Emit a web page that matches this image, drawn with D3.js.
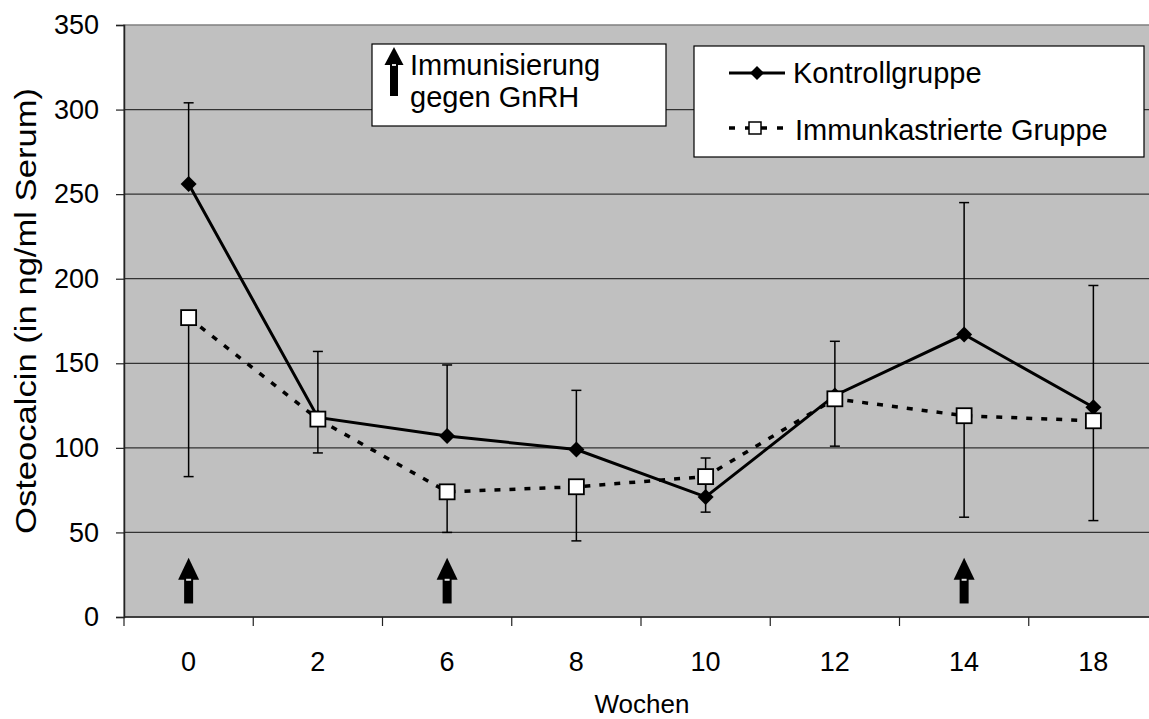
<!DOCTYPE html>
<html>
<head>
<meta charset="utf-8">
<script src="https://cdn.jsdelivr.net/npm/d3@7"></script>
<style>
  body { margin: 0; background: #fff; }
  svg text { font-family: "Liberation Sans", Arial, sans-serif; fill: #000; }
</style>
</head>
<body>
<div id="chart"></div>
<script>
// data
var weeks = ["0", "2", "6", "8", "10", "12", "14", "18"];
var kontroll = [256, 118, 107, 99, 71, 131, 167, 124];
var kontrollUpper = [304, 157, 149, 134, 94, 163, 245, 196];
var immun = [177, 117, 74, 77, 83, 129, 119, 116];
var immunLower = [83, 97, 50, 45, 62, 101, 59, 57];
var yTicks = [0, 50, 100, 150, 200, 250, 300, 350];
var arrowWeeks = ["0", "6", "14"];

var W = 1149, H = 719;
var plotLeft = 124, plotTop = 25, plotBottom = 617;
var band = 129.25;

var svg = d3.select("#chart").append("svg")
    .attr("width", W).attr("height", H);

var x = d3.scaleBand()
    .domain(weeks)
    .range([plotLeft, plotLeft + band * weeks.length]);
var y = d3.scaleLinear()
    .domain([0, 350])
    .range([plotBottom, plotTop]);

var plotRight = x.range()[1];

// plot area
svg.append("rect")
    .attr("x", plotLeft).attr("y", plotTop)
    .attr("width", plotRight - plotLeft).attr("height", plotBottom - plotTop)
    .attr("fill", "#c0c0c0")
    .attr("stroke", "#808080").attr("stroke-width", 1.5);

// gridlines
svg.append("g").selectAll("line")
  .data(yTicks.filter(function(d) { return d > 0 && d < 350; }))
  .enter().append("line")
    .attr("x1", plotLeft).attr("x2", plotRight)
    .attr("y1", function(d) { return y(d); })
    .attr("y2", function(d) { return y(d); })
    .attr("stroke", "#333").attr("stroke-width", 1.2);

// axes
var yAxis = d3.axisLeft(y).tickValues(yTicks).tickSize(8).tickPadding(17);
var gy = svg.append("g").attr("transform", "translate(" + plotLeft + ",0)").call(yAxis);
gy.select(".domain").attr("stroke", "#222").attr("stroke-width", 1.5);
gy.selectAll(".tick line").attr("stroke", "#222").attr("stroke-width", 1.2);
gy.selectAll("text").style("font-size", "27px");

var gx = svg.append("g").attr("transform", "translate(0," + plotBottom + ")");
gx.append("line")
    .attr("x1", plotLeft).attr("x2", plotRight)
    .attr("stroke", "#222").attr("stroke-width", 1.5);
gx.selectAll(".tk").data(weeks.concat(["end"]))
  .enter().append("line")
    .attr("x1", function(d, i) { return plotLeft + i * x.step(); })
    .attr("x2", function(d, i) { return plotLeft + i * x.step(); })
    .attr("y1", 0).attr("y2", 9)
    .attr("stroke", "#222").attr("stroke-width", 1.2);
gx.selectAll(".lbl").data(weeks)
  .enter().append("text")
    .attr("x", function(d) { return x(d) + x.bandwidth() / 2; })
    .attr("y", 54)
    .attr("text-anchor", "middle")
    .style("font-size", "27px")
    .text(function(d) { return d; });

// axis titles
svg.append("text")
    .attr("x", 642).attr("y", 713)
    .attr("text-anchor", "middle")
    .style("font-size", "26px")
    .text("Wochen");
svg.append("text")
    .attr("transform", "translate(36,311) rotate(-90)")
    .attr("text-anchor", "middle")
    .attr("textLength", 446)
    .attr("lengthAdjust", "spacingAndGlyphs")
    .style("font-size", "30px")
    .text("Osteocalcin (in ng/ml Serum)");

// immunisation arrows
function arrow(g, cx, yTip, yHead, yBase, headW, shaftW) {
  g.append("path")
    .attr("d", "M" + (cx - shaftW / 2) + "," + (yHead - 1) +
               "L" + (cx + shaftW / 2) + "," + (yHead - 1) +
               "L" + (cx + shaftW / 2) + "," + yBase +
               "L" + (cx - shaftW / 2) + "," + yBase + "Z")
    .attr("fill", "#000");
  g.append("path")
    .attr("d", "M" + cx + "," + yTip + "L" + (cx + headW / 2) + "," + yHead +
               "L" + (cx - headW / 2) + "," + yHead + "Z")
    .attr("fill", "#000");
  g.append("rect")
    .attr("x", cx - shaftW / 2 + 2).attr("y", yHead - 1)
    .attr("width", shaftW - 4).attr("height", 2)
    .attr("fill", "#ddd");
}
var ga = svg.append("g");
arrowWeeks.forEach(function(w) {
  arrow(ga, x(w) + x.bandwidth() / 2, y(35), y(22), y(8), 21, 9);
});

function cx(i) { return x(weeks[i]) + x.bandwidth() / 2; }

// error bars
function errBars(vals, ends) {
  var g = svg.append("g").attr("stroke", "#000").attr("stroke-width", 1.5);
  vals.forEach(function(v, i) {
    g.append("line").attr("x1", cx(i)).attr("x2", cx(i))
      .attr("y1", y(v)).attr("y2", y(ends[i]));
    g.append("line").attr("x1", cx(i) - 5).attr("x2", cx(i) + 5)
      .attr("y1", y(ends[i])).attr("y2", y(ends[i]));
  });
}
errBars(kontroll, kontrollUpper);
errBars(immun, immunLower);

var line = d3.line().x(function(d, i) { return cx(i); }).y(function(d) { return y(d); });

svg.append("path").datum(immun)
    .attr("d", line).attr("fill", "none")
    .attr("stroke", "#000").attr("stroke-width", 3.5)
    .attr("stroke-dasharray", "6,9");
svg.append("path").datum(kontroll)
    .attr("d", line).attr("fill", "none")
    .attr("stroke", "#000").attr("stroke-width", 3);

var dsz = 8;
svg.append("g").selectAll("path").data(kontroll).enter().append("path")
    .attr("d", function(d, i) {
      var px = cx(i), py = y(d);
      return "M" + px + "," + (py - dsz) + "L" + (px + dsz) + "," + py +
             "L" + px + "," + (py + dsz) + "L" + (px - dsz) + "," + py + "Z";
    })
    .attr("fill", "#000");
svg.append("g").selectAll("rect").data(immun).enter().append("rect")
    .attr("x", function(d, i) { return cx(i) - 7.5; })
    .attr("y", function(d) { return y(d) - 7.5; })
    .attr("width", 15).attr("height", 15)
    .attr("fill", "#fff").attr("stroke", "#000").attr("stroke-width", 1.8);

// legend 1: immunisation
var l1 = svg.append("g");
l1.append("rect").attr("x", 372).attr("y", 44).attr("width", 294).attr("height", 82)
    .attr("fill", "#fff").attr("stroke", "#000").attr("stroke-width", 1.2);
arrow(l1, 394, 47, 65, 96, 19, 8);
l1.append("text").attr("x", 410).attr("y", 75).style("font-size", "29px").text("Immunisierung");
l1.append("text").attr("x", 410).attr("y", 107).style("font-size", "29px").text("gegen GnRH");

// legend 2: series
var l2 = svg.append("g");
l2.append("rect").attr("x", 694).attr("y", 46).attr("width", 450).attr("height", 111)
    .attr("fill", "#fff").attr("stroke", "#000").attr("stroke-width", 1.2);
l2.append("line").attr("x1", 729).attr("x2", 785).attr("y1", 73).attr("y2", 73)
    .attr("stroke", "#000").attr("stroke-width", 3);
l2.append("path").attr("d", "M757,66L764,73L757,80L750,73Z").attr("fill", "#000");
l2.append("text").attr("x", 793).attr("y", 83).style("font-size", "29px").text("Kontrollgruppe");
l2.append("line").attr("x1", 729).attr("x2", 785).attr("y1", 128).attr("y2", 128)
    .attr("stroke", "#000").attr("stroke-width", 3.5).attr("stroke-dasharray", "6,10");
l2.append("rect").attr("x", 749).attr("y", 122).attr("width", 12).attr("height", 12)
    .attr("fill", "#fff").attr("stroke", "#000").attr("stroke-width", 1.5);
l2.append("text").attr("x", 795).attr("y", 140).style("font-size", "29px").text("Immunkastrierte Gruppe");
</script>
</body>
</html>
